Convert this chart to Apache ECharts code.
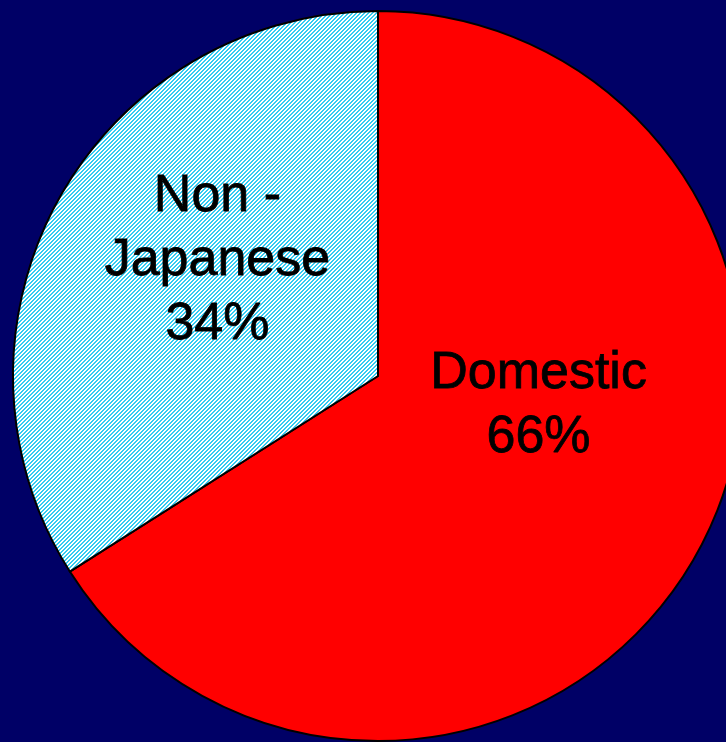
<!DOCTYPE html>
<html>
<head>
<meta charset="utf-8">
<script src="https://cdn.jsdelivr.net/npm/echarts@6/dist/echarts.min.js"></script>
<style>
html,body{margin:0;padding:0;background:#000066;}
#chart{width:726px;height:742px;}
</style>
</head>
<body>
<div id="chart"></div>
<script>
// Data
const categories = ['Domestic', 'Non -\nJapanese'];
const shares = [66, 34];

// Hatched pattern for Non-Japanese slice
function makePattern() {
  const c = document.createElement('canvas');
  c.width = 4; c.height = 4;
  const ctx = c.getContext('2d');
  ctx.fillStyle = '#ffffff';
  ctx.fillRect(0, 0, 4, 4);
  ctx.fillStyle = '#33ccf2';
  for (let x = 0; x < 4; x++) {
    for (let y = 0; y < 4; y++) {
      const k = (x + y) % 4;
      if (k === 0 || k === 1) ctx.fillRect(x, y, 1, 1);
    }
  }
  return c;
}

const fills = ['#ff0000', { image: makePattern(), repeat: 'repeat' }];
const labelOffsets = [[-2, -60], [2, -26]];

const chart = echarts.init(document.getElementById('chart'), null, { renderer: 'canvas' });
chart.setOption({
  backgroundColor: '#000066',
  animation: false,
  series: [{
    type: 'pie',
    center: [378, 376],
    radius: 365,
    startAngle: 90,
    clockwise: true,
    silent: true,
    itemStyle: { borderColor: '#000000', borderWidth: 2 },
    label: {
      show: true,
      position: 'inside',
      formatter: '{b}\n{d}%',
      color: '#000000',
      fontFamily: 'Liberation Sans, Arial, sans-serif',
      fontSize: 52,
      lineHeight: 64,
      align: 'center',
      textBorderColor: '#000000',
      textBorderWidth: 0.8
    },
    labelLine: { show: false },
    data: categories.map((name, i) => ({
      name: name,
      value: shares[i],
      itemStyle: { color: fills[i] },
      label: { offset: labelOffsets[i] }
    }))
  }]
});
</script>
</body>
</html>
